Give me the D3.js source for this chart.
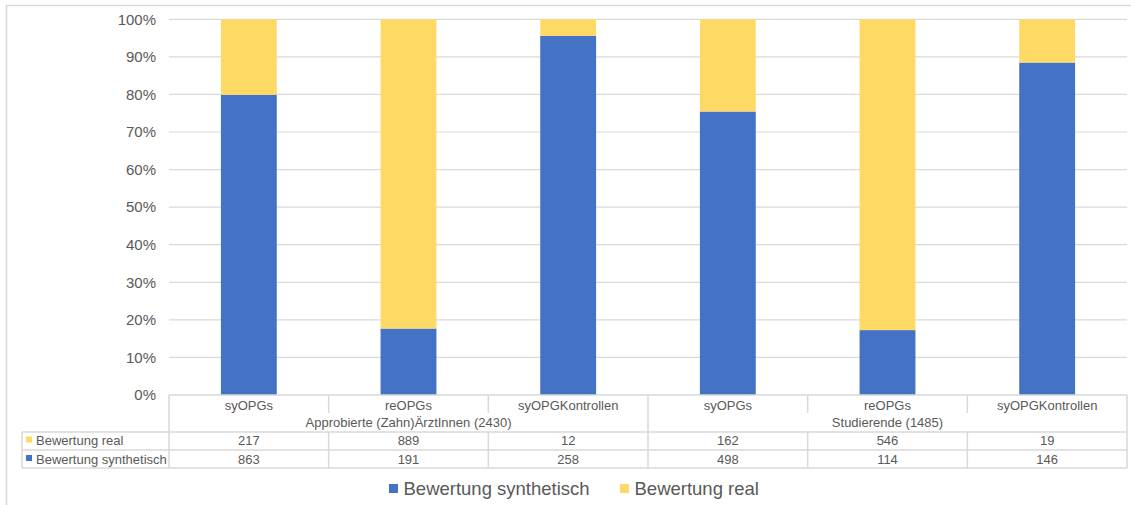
<!DOCTYPE html>
<html>
<head>
<meta charset="utf-8">
<script src="https://cdn.jsdelivr.net/npm/d3@7"></script>
<style>
  html, body { margin: 0; padding: 0; background: #fff; }
  svg { display: block; font-family: "Liberation Sans", Arial, Helvetica, sans-serif; }
</style>
</head>
<body>
<svg id="chart" width="1131" height="505"></svg>
<script>
// Ratings per image type, for two groups of raters
const groups = ["Approbierte (Zahn)ÄrztInnen (2430)", "Studierende (1485)"];
const categories = ["syOPGs", "reOPGs", "syOPGKontrollen", "syOPGs", "reOPGs", "syOPGKontrollen"];
const groupOf = [0, 0, 0, 1, 1, 1];
const bewertungSynthetisch = [863, 191, 258, 498, 114, 146];
const bewertungReal = [217, 889, 12, 162, 546, 19];
const seriesNames = ["Bewertung synthetisch", "Bewertung real"];
const yTicks = [0, 0.1, 0.2, 0.3, 0.4, 0.5, 0.6, 0.7, 0.8, 0.9, 1.0];

const colors = { "Bewertung synthetisch": "#4472C4", "Bewertung real": "#FFD966" };
const gridColor = "#d9d9d9";
const textColor = "#595959";

const svg = d3.select("#chart");

// frame
svg.append("line").attr("x1", 6).attr("x2", 1131).attr("y1", 5.5).attr("y2", 5.5)
  .attr("stroke", gridColor).attr("stroke-width", 1.5);
svg.append("line").attr("x1", 6.5).attr("x2", 6.5).attr("y1", 5).attr("y2", 505)
  .attr("stroke", gridColor).attr("stroke-width", 1.5);

const plotLeft = 169, plotRight = 1127, plotTop = 19.3, plotBottom = 395;

const idx = categories.map((_, i) => i);
const x = d3.scaleBand().domain(idx).range([plotLeft, plotRight]).paddingInner(0.65).paddingOuter(0.325);
const y = d3.scaleLinear().domain([0, 1]).range([plotBottom, plotTop]);

// gridlines
svg.append("g").selectAll("line").data(yTicks.filter(t => t > 0)).join("line")
  .attr("x1", plotLeft).attr("x2", plotRight)
  .attr("y1", d => y(d)).attr("y2", d => y(d))
  .attr("stroke", gridColor).attr("stroke-width", 1.2);

// y axis labels
const yAxis = d3.axisLeft(y).tickValues(yTicks).tickFormat(d3.format(".0%")).tickSize(0).tickPadding(13);
const gy = svg.append("g").attr("transform", `translate(${plotLeft},0)`).call(yAxis);
gy.select(".domain").remove();
gy.selectAll("text").attr("fill", textColor).style("font-size", "15px")
  .style("font-family", '"Liberation Sans", Arial, sans-serif');

// stacked 100% columns
const rows = idx.map(i => {
  const total = bewertungSynthetisch[i] + bewertungReal[i];
  return { i, "Bewertung synthetisch": bewertungSynthetisch[i] / total, "Bewertung real": bewertungReal[i] / total };
});
const stack = d3.stack().keys(seriesNames)(rows);

svg.append("g").selectAll("g").data(stack).join("g")
  .attr("fill", s => colors[s.key])
  .selectAll("rect").data(s => s).join("rect")
  .attr("x", d => x(d.data.i))
  .attr("width", x.bandwidth())
  .attr("y", d => y(d[1]))
  .attr("height", d => y(d[0]) - y(d[1]));

// data table
const step = x.step();
const cellLeft = i => plotLeft + i * step;
const table = svg.append("g").attr("stroke", gridColor).attr("stroke-width", 1.5);
const rowY = [395, 432, 450, 468];
const headerLeft = 22;

// horizontal lines
table.append("line").attr("x1", plotLeft).attr("x2", plotRight).attr("y1", rowY[0]).attr("y2", rowY[0]);
[rowY[1], rowY[2], rowY[3]].forEach(yy =>
  table.append("line").attr("x1", headerLeft).attr("x2", plotRight).attr("y1", yy).attr("y2", yy));
// vertical lines
table.append("line").attr("x1", headerLeft).attr("x2", headerLeft).attr("y1", rowY[1]).attr("y2", rowY[3]);
d3.range(categories.length + 1).forEach(k => {
  const xx = k === categories.length ? plotRight : cellLeft(k);
  const isBoundary = k === 0 || k === categories.length || groupOf[k] !== groupOf[k - 1];
  if (isBoundary) {
    table.append("line").attr("x1", xx).attr("x2", xx).attr("y1", rowY[0]).attr("y2", rowY[3]);
  } else {
    table.append("line").attr("x1", xx).attr("x2", xx).attr("y1", rowY[0]).attr("y2", 413);
    table.append("line").attr("x1", xx).attr("x2", xx).attr("y1", rowY[1]).attr("y2", rowY[3]);
  }
});

const txt = svg.append("g").attr("fill", textColor).style("font-size", "13px");
// category labels
txt.selectAll("text.cat").data(categories).join("text").attr("class", "cat")
  .attr("x", (d, i) => x(i) + x.bandwidth() / 2).attr("y", 409.5)
  .attr("text-anchor", "middle").text(d => d);
// group labels
groups.forEach((g, gi) => {
  const members = idx.filter(i => groupOf[i] === gi);
  const x0 = cellLeft(members[0]), x1 = cellLeft(members[members.length - 1]) + step;
  txt.append("text").attr("x", (x0 + x1) / 2).attr("y", 427).attr("text-anchor", "middle").text(g);
});
// value rows (real on top, synthetisch below)
const tableRows = [
  { name: "Bewertung real", values: bewertungReal, base: 445 },
  { name: "Bewertung synthetisch", values: bewertungSynthetisch, base: 463.5 }
];
tableRows.forEach(r => {
  svg.append("rect").attr("x", 26).attr("y", r.base - 8.5).attr("width", 6).attr("height", 6)
    .attr("fill", colors[r.name]);
  txt.append("text").attr("x", 36).attr("y", r.base).text(r.name);
  r.values.forEach((v, i) => {
    txt.append("text").attr("x", x(i) + x.bandwidth() / 2).attr("y", r.base)
      .attr("text-anchor", "middle").text(v);
  });
});

// legend
const legendItems = [
  { name: "Bewertung synthetisch", sx: 389 },
  { name: "Bewertung real", sx: 620 }
];
const lg = svg.append("g");
legendItems.forEach(l => {
  lg.append("rect").attr("x", l.sx).attr("y", 484).attr("width", 9).attr("height", 9).attr("fill", colors[l.name]);
  lg.append("text").attr("x", l.sx + 14.5).attr("y", 494.5).attr("fill", textColor)
    .style("font-size", "18.5px").text(l.name);
});
</script>
</body>
</html>
